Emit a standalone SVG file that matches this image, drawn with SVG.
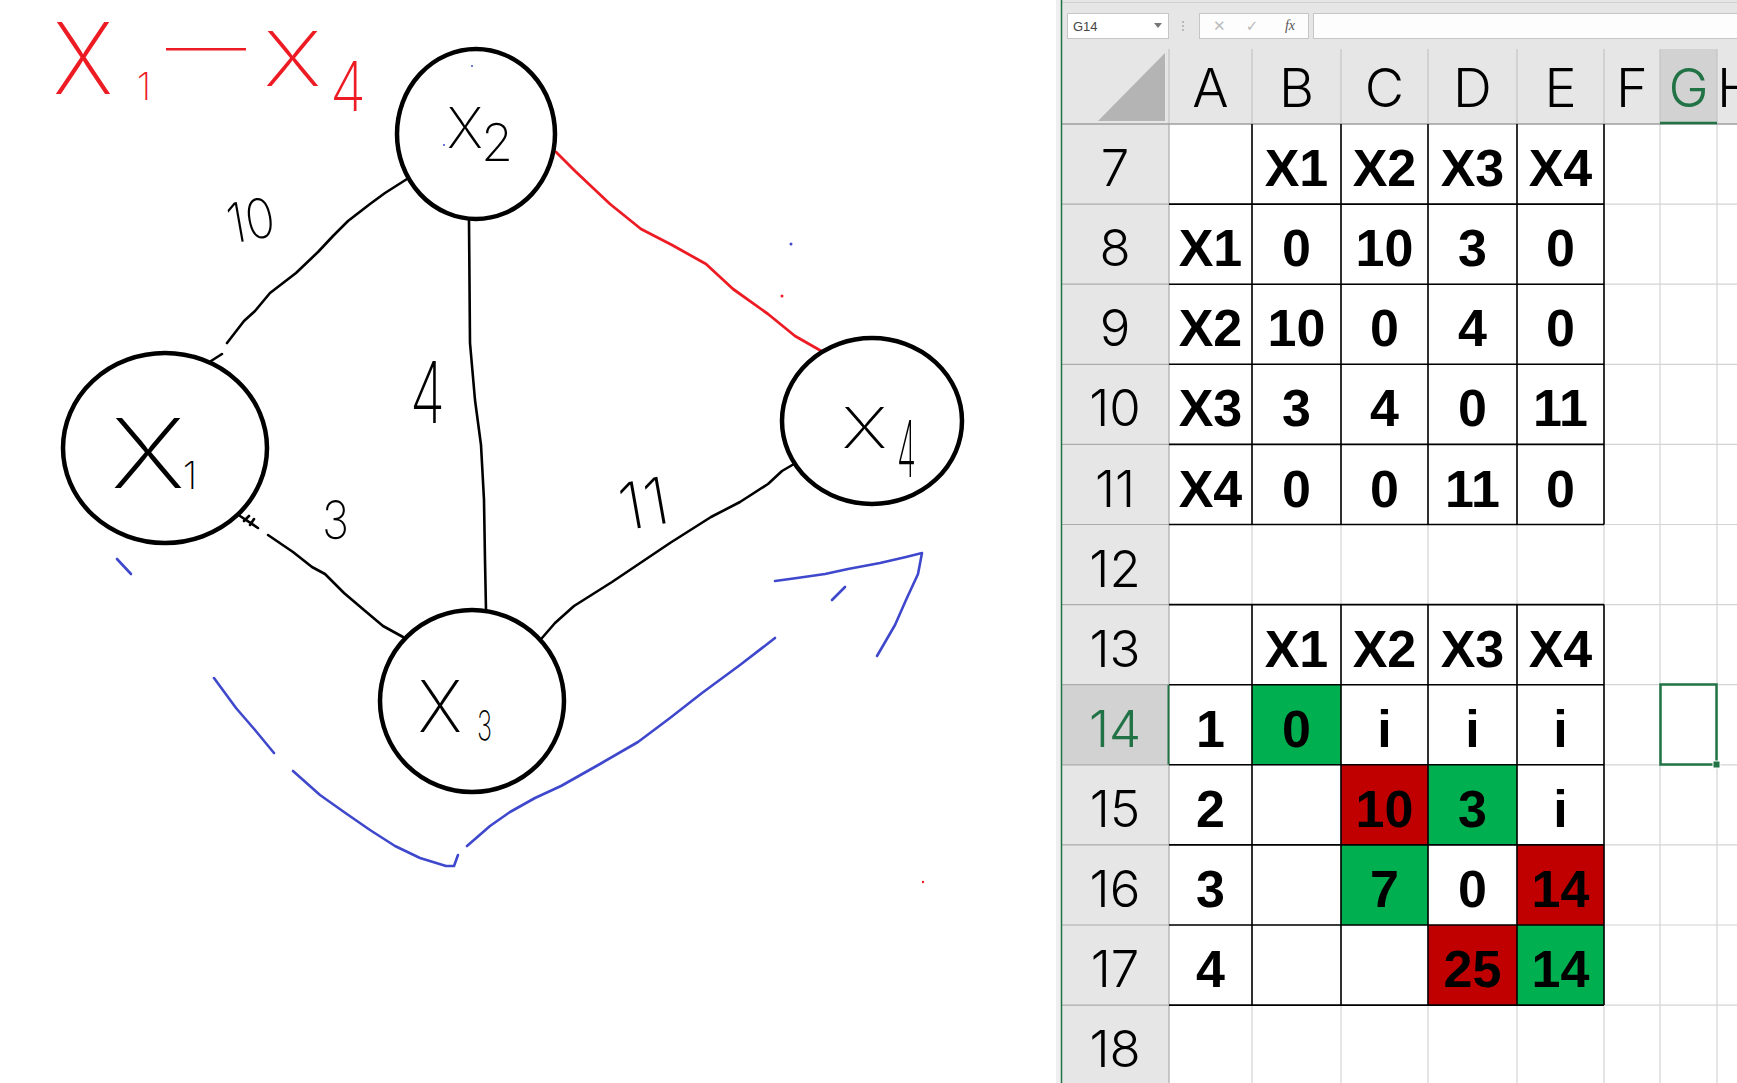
<svg xmlns="http://www.w3.org/2000/svg" width="1737" height="1083" viewBox="0 0 1737 1083">
<style>
.node{fill:none;stroke:#000;stroke-width:4.5}
.edge{fill:none;stroke:#000;stroke-width:2.6;stroke-linejoin:round;stroke-linecap:round}
.red{fill:none;stroke:#ed1c24;stroke-width:2.8;stroke-linejoin:round;stroke-linecap:round}
.blue{fill:none;stroke:#3f48cc;stroke-width:2.6;stroke-linejoin:round;stroke-linecap:round}
.hw{font-family:Inter,"Liberation Sans",sans-serif;font-weight:200;fill:#000}
.hwr{font-family:Inter,"Liberation Sans",sans-serif;font-weight:200;fill:#ed1c24}
.hdr{font-family:Inter,"Liberation Sans",sans-serif;font-weight:300;font-size:54px;fill:#000;text-anchor:middle}
.rn{font-family:Inter,"Liberation Sans",sans-serif;font-weight:300;font-size:51px;fill:#000;text-anchor:middle}
.cell{font-family:"Liberation Sans",Arial,sans-serif;font-weight:bold;font-size:52px;fill:#000;text-anchor:middle}
.grid{stroke:#d4d4d4;stroke-width:1.2}
.tb{stroke:#000;stroke-width:1.6}
.hsep{stroke:#ababab;stroke-width:1.2}
.csep{stroke:#c4c4c4;stroke-width:1.2}
.gfill{fill:#00b050}
.rfill{fill:#c00000}
</style>
<rect x="0" y="0" width="1737" height="1083" fill="#fff"/>

<!-- Title -->
<g id="title">
<text class="hwr" x="53" y="94" font-size="99" textLength="60" lengthAdjust="spacingAndGlyphs">X</text>
<text class="hwr" x="144" y="100" font-size="38" text-anchor="middle">1</text>
<text class="hwr" x="166" y="68" font-size="60" textLength="80" lengthAdjust="spacingAndGlyphs">—</text>
<text class="hwr" x="264" y="86" font-size="75" textLength="57" lengthAdjust="spacingAndGlyphs">X</text>
<text class="hwr" x="330" y="111" font-size="68" textLength="36" lengthAdjust="spacingAndGlyphs">4</text>
</g>

<!-- Connectors -->
<g id="connectors">
<path class="edge" d="M211,361 L222,354"/>
<path class="edge" d="M227,343 L244,321 L255,311 L270,293 L296,273 L318,252 L333,236 L348,221 L370,204 L385,193 L407,179"/>
<path class="edge" d="M469,221 L470,343 L475,400 L481,445 L484,500 L485,560 L486,610"/>
<path class="edge" d="M240,516 L258,528 M244,521 L249,516 M250,525 L254,519"/>
<path class="edge" d="M268,535 L293,552 L312,567 L325,574 L344,593 L364,610 L383,626 L403,637"/>
<path class="edge" d="M542,638 L555,623 L574,606 L612,582 L670,543 L711,517 L740,502 L768,484 L782,471 L794,464"/>
<path class="red" d="M556,152 L575,171 L610,204 L641,229 L672,245 L706,264 L733,289 L768,314 L795,336 L823,352"/>
<path class="blue" d="M117,559 L131,574"/>
<path class="blue" d="M214,678 L236,708 L255,730 L274,753"/>
<path class="blue" d="M293,771 L320,795 L344,812 L370,830 L395,846 L420,858 L446,866 L454,866 L458,855"/>
<path class="blue" d="M467,846 L490,826 L510,812 L535,798 L561,786 L600,764 L638,742 L670,718 L702,693 L740,665 L775,638"/>
<path class="blue" d="M832,600 L845,587"/>
<path class="blue" d="M775,581 L797,578 L825,574 L848,569 L880,563 L906,557 L922,553 L918,574 L906,600 L895,625 L877,656"/>
<circle cx="791" cy="244" r="1.5" fill="#3f48cc"/>
<circle cx="782" cy="296" r="1.5" fill="#ed1c24"/>
<circle cx="472" cy="66" r="1" fill="#3f48cc"/>
<circle cx="444" cy="145" r="1" fill="#3f48cc"/>
<circle cx="923" cy="882" r="1.2" fill="#ed1c24"/>
</g>

<!-- Edge labels -->
<g id="edge-labels">
<text class="hw" x="226" y="240" font-size="55" textLength="48" lengthAdjust="spacingAndGlyphs" transform="rotate(-10 250 216)">10</text>
<text class="hw" x="410" y="423" font-size="85" textLength="35" lengthAdjust="spacingAndGlyphs">4</text>
<text class="hw" x="322" y="539" font-size="53" textLength="27" lengthAdjust="spacingAndGlyphs">3</text>
<text class="hw" x="618" y="527" font-size="65" textLength="50" lengthAdjust="spacingAndGlyphs" transform="rotate(-10 643 500)">11</text>
</g>

<!-- Nodes -->
<g id="node-x1">
<ellipse class="node" cx="165" cy="448" rx="102" ry="95"/>
<text class="hw" x="111" y="488" font-size="96" textLength="74" lengthAdjust="spacingAndGlyphs">X</text>
<text class="hw" x="190" y="489" font-size="38" text-anchor="middle">1</text>
</g>
<g id="node-x2">
<ellipse class="node" cx="476" cy="134" rx="79" ry="85"/>
<text class="hw" x="447" y="148" font-size="56">X<tspan x="481" y="161" font-size="52">2</tspan></text>
</g>
<g id="node-x3">
<ellipse class="node" cx="472" cy="701" rx="92" ry="91"/>
<text class="hw" x="418" y="732" font-size="71" textLength="44" lengthAdjust="spacingAndGlyphs">X</text>
<text class="hw" x="477" y="740" font-size="41" textLength="15" lengthAdjust="spacingAndGlyphs">3</text>
</g>
<g id="node-x4">
<ellipse class="node" cx="872" cy="421" rx="90" ry="83"/>
<text class="hw" x="842" y="448" font-size="56" textLength="45" lengthAdjust="spacingAndGlyphs">X</text>
<text class="hw" x="897" y="477" font-size="78" textLength="19" lengthAdjust="spacingAndGlyphs">4</text>
</g>

<!-- Spreadsheet -->
<g id="spreadsheet">
<rect x="1056" y="0" width="5" height="1083" fill="#efefef"/>
<rect x="1061" y="0" width="676" height="1083" fill="#fff"/>
<rect x="1062" y="0" width="675" height="124" fill="#e6e6e6"/>
<line x1="1062" y1="2.5" x2="1737" y2="2.5" stroke="#d0d0d0" stroke-width="1"/>
<!-- formula bar -->
<rect x="1067.5" y="13.5" width="101" height="25" fill="#fff" stroke="#c6c6c6"/>
<text x="1073" y="31" font-family="'Liberation Sans',Arial,sans-serif" font-size="13" fill="#444">G14</text>
<path d="M1154,23 L1162,23 L1158,28 Z" fill="#777"/>
<circle cx="1183" cy="22" r="1" fill="#aaa"/>
<circle cx="1183" cy="26" r="1" fill="#aaa"/>
<circle cx="1183" cy="30" r="1" fill="#aaa"/>
<rect x="1199.5" y="13.5" width="109" height="25" fill="#fdfdfd" stroke="#c6c6c6"/>
<text x="1219" y="31" font-family="'Liberation Sans',Arial,sans-serif" font-size="15" fill="#bbb" text-anchor="middle">✕</text>
<text x="1252" y="31" font-family="'DejaVu Sans',sans-serif" font-size="15" fill="#bbb" text-anchor="middle">✓</text>
<text x="1290" y="30" font-family="'Liberation Serif',serif" font-style="italic" font-size="14" fill="#555" text-anchor="middle">fx</text>
<rect x="1313.5" y="13.5" width="430" height="25" fill="#fdfdfd" stroke="#c6c6c6"/>
<!-- column headers -->
<rect x="1660" y="49" width="57" height="75" fill="#d2d2d2"/>
<g class="csep">
<line x1="1169" y1="49" x2="1169" y2="124"/>
<line x1="1252" y1="49" x2="1252" y2="124"/>
<line x1="1341" y1="49" x2="1341" y2="124"/>
<line x1="1428" y1="49" x2="1428" y2="124"/>
<line x1="1517" y1="49" x2="1517" y2="124"/>
<line x1="1604" y1="49" x2="1604" y2="124"/>
<line x1="1660" y1="49" x2="1660" y2="124"/>
<line x1="1717" y1="49" x2="1717" y2="124"/>
</g>
<polygon points="1098,121 1165,121 1165,53" fill="#b4b4b4"/>
<text class="hdr" x="1210.5" y="107">A</text>
<text class="hdr" x="1296.5" y="107">B</text>
<text class="hdr" x="1384.5" y="107">C</text>
<text class="hdr" x="1472.5" y="107">D</text>
<text class="hdr" x="1560.5" y="107">E</text>
<text class="hdr" x="1632" y="107">F</text>
<text class="hdr" x="1688.5" y="107" style="fill:#217346">G</text>
<text class="hdr" x="1717" y="107" style="text-anchor:start">H</text>
<!-- row header column -->
<rect x="1062" y="124" width="107" height="959" fill="#e6e6e6"/>
<rect x="1062" y="684.7" width="107" height="80.1" fill="#d2d2d2"/>
<!-- cell gridlines -->
<g class="grid">
<line x1="1252" y1="124" x2="1252" y2="1083"/>
<line x1="1341" y1="124" x2="1341" y2="1083"/>
<line x1="1428" y1="124" x2="1428" y2="1083"/>
<line x1="1517" y1="124" x2="1517" y2="1083"/>
<line x1="1604" y1="124" x2="1604" y2="1083"/>
<line x1="1660" y1="124" x2="1660" y2="1083"/>
<line x1="1717" y1="124" x2="1717" y2="1083"/>
<line x1="1169" y1="204.1" x2="1737" y2="204.1"/>
<line x1="1169" y1="284.2" x2="1737" y2="284.2"/>
<line x1="1169" y1="364.3" x2="1737" y2="364.3"/>
<line x1="1169" y1="444.4" x2="1737" y2="444.4"/>
<line x1="1169" y1="524.5" x2="1737" y2="524.5"/>
<line x1="1169" y1="604.6" x2="1737" y2="604.6"/>
<line x1="1169" y1="684.7" x2="1737" y2="684.7"/>
<line x1="1169" y1="764.8" x2="1737" y2="764.8"/>
<line x1="1169" y1="844.9" x2="1737" y2="844.9"/>
<line x1="1169" y1="925" x2="1737" y2="925"/>
<line x1="1169" y1="1005.1" x2="1737" y2="1005.1"/>
</g>
<!-- row header separators -->
<g class="hsep">
<line x1="1062" y1="204.1" x2="1169" y2="204.1"/>
<line x1="1062" y1="284.2" x2="1169" y2="284.2"/>
<line x1="1062" y1="364.3" x2="1169" y2="364.3"/>
<line x1="1062" y1="444.4" x2="1169" y2="444.4"/>
<line x1="1062" y1="524.5" x2="1169" y2="524.5"/>
<line x1="1062" y1="604.6" x2="1169" y2="604.6"/>
<line x1="1062" y1="684.7" x2="1169" y2="684.7"/>
<line x1="1062" y1="764.8" x2="1169" y2="764.8"/>
<line x1="1062" y1="844.9" x2="1169" y2="844.9"/>
<line x1="1062" y1="925" x2="1169" y2="925"/>
<line x1="1062" y1="1005.1" x2="1169" y2="1005.1"/>
<line x1="1169" y1="124" x2="1169" y2="1083"/>
</g>
<line x1="1062" y1="124" x2="1737" y2="124" stroke="#9e9e9e" stroke-width="1.4"/>
<line x1="1660" y1="123" x2="1717" y2="123" stroke="#217346" stroke-width="2.5"/>
<!-- fills -->
<rect class="gfill" x="1252" y="684.7" width="89" height="80.1"/>
<rect class="rfill" x="1341" y="764.8" width="87" height="80.1"/>
<rect class="gfill" x="1428" y="764.8" width="89" height="80.1"/>
<rect class="gfill" x="1341" y="844.9" width="87" height="80.1"/>
<rect class="rfill" x="1517" y="844.9" width="87" height="80.1"/>
<rect class="rfill" x="1428" y="925" width="89" height="80.1"/>
<rect class="gfill" x="1517" y="925" width="87" height="80.1"/>
<!-- table borders -->
<g class="tb">
<line x1="1252" y1="124" x2="1252" y2="524.5"/>
<line x1="1341" y1="124" x2="1341" y2="524.5"/>
<line x1="1428" y1="124" x2="1428" y2="524.5"/>
<line x1="1517" y1="124" x2="1517" y2="524.5"/>
<line x1="1604" y1="124" x2="1604" y2="524.5"/>
<line x1="1169" y1="204.1" x2="1604" y2="204.1"/>
<line x1="1169" y1="284.2" x2="1604" y2="284.2"/>
<line x1="1169" y1="364.3" x2="1604" y2="364.3"/>
<line x1="1169" y1="444.4" x2="1604" y2="444.4"/>
<line x1="1169" y1="524.5" x2="1604" y2="524.5"/>
<line x1="1252" y1="604.6" x2="1252" y2="1005.1"/>
<line x1="1341" y1="604.6" x2="1341" y2="1005.1"/>
<line x1="1428" y1="604.6" x2="1428" y2="1005.1"/>
<line x1="1517" y1="604.6" x2="1517" y2="1005.1"/>
<line x1="1604" y1="604.6" x2="1604" y2="1005.1"/>
<line x1="1169" y1="604.6" x2="1604" y2="604.6"/>
<line x1="1169" y1="684.7" x2="1604" y2="684.7"/>
<line x1="1169" y1="764.8" x2="1604" y2="764.8"/>
<line x1="1169" y1="844.9" x2="1604" y2="844.9"/>
<line x1="1169" y1="925" x2="1604" y2="925"/>
<line x1="1169" y1="1005.1" x2="1604" y2="1005.1"/>
</g>
<line x1="1168.5" y1="685" x2="1168.5" y2="764.5" stroke="#217346" stroke-width="2"/>
<line x1="1061.5" y1="0" x2="1061.5" y2="1083" stroke="#217346" stroke-width="1.5"/>
<!-- row numbers -->
<text class="rn" x="1115" y="186">7</text>
<text class="rn" x="1115" y="266">8</text>
<text class="rn" x="1115" y="346">9</text>
<text class="rn" x="1115" y="426">10</text>
<text class="rn" x="1115" y="507">11</text>
<text class="rn" x="1115" y="587">12</text>
<text class="rn" x="1115" y="667">13</text>
<text class="rn" x="1115" y="747" style="fill:#217346">14</text>
<text class="rn" x="1115" y="827">15</text>
<text class="rn" x="1115" y="907">16</text>
<text class="rn" x="1115" y="987">17</text>
<text class="rn" x="1115" y="1067">18</text>
<!-- cell values table 1 -->
<text class="cell" x="1296.5" y="186">X1</text>
<text class="cell" x="1384.5" y="186">X2</text>
<text class="cell" x="1472.5" y="186">X3</text>
<text class="cell" x="1560.5" y="186">X4</text>
<text class="cell" x="1210.5" y="266">X1</text>
<text class="cell" x="1296.5" y="266">0</text>
<text class="cell" x="1384.5" y="266">10</text>
<text class="cell" x="1472.5" y="266">3</text>
<text class="cell" x="1560.5" y="266">0</text>
<text class="cell" x="1210.5" y="346">X2</text>
<text class="cell" x="1296.5" y="346">10</text>
<text class="cell" x="1384.5" y="346">0</text>
<text class="cell" x="1472.5" y="346">4</text>
<text class="cell" x="1560.5" y="346">0</text>
<text class="cell" x="1210.5" y="426">X3</text>
<text class="cell" x="1296.5" y="426">3</text>
<text class="cell" x="1384.5" y="426">4</text>
<text class="cell" x="1472.5" y="426">0</text>
<text class="cell" x="1560.5" y="426">11</text>
<text class="cell" x="1210.5" y="507">X4</text>
<text class="cell" x="1296.5" y="507">0</text>
<text class="cell" x="1384.5" y="507">0</text>
<text class="cell" x="1472.5" y="507">11</text>
<text class="cell" x="1560.5" y="507">0</text>
<!-- cell values table 2 -->
<text class="cell" x="1296.5" y="667">X1</text>
<text class="cell" x="1384.5" y="667">X2</text>
<text class="cell" x="1472.5" y="667">X3</text>
<text class="cell" x="1560.5" y="667">X4</text>
<text class="cell" x="1210.5" y="747">1</text>
<text class="cell" x="1296.5" y="747">0</text>
<text class="cell" x="1384.5" y="747">i</text>
<text class="cell" x="1472.5" y="747">i</text>
<text class="cell" x="1560.5" y="747">i</text>
<text class="cell" x="1210.5" y="827">2</text>
<text class="cell" x="1384.5" y="827">10</text>
<text class="cell" x="1472.5" y="827">3</text>
<text class="cell" x="1560.5" y="827">i</text>
<text class="cell" x="1210.5" y="907">3</text>
<text class="cell" x="1384.5" y="907">7</text>
<text class="cell" x="1472.5" y="907">0</text>
<text class="cell" x="1560.5" y="907">14</text>
<text class="cell" x="1210.5" y="987">4</text>
<text class="cell" x="1472.5" y="987">25</text>
<text class="cell" x="1560.5" y="987">14</text>
<!-- selected cell -->
<rect x="1660.5" y="684.5" width="56" height="80" fill="none" stroke="#217346" stroke-width="2.5"/>
<rect x="1713" y="761" width="7" height="7" fill="#217346" stroke="#fff" stroke-width="1"/>
</g>
</svg>
